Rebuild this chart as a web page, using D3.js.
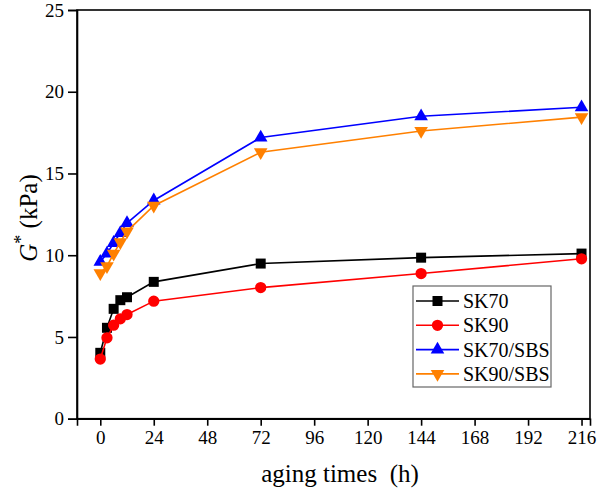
<!DOCTYPE html>
<html>
<head>
<meta charset="utf-8">
<script src="https://cdn.jsdelivr.net/npm/d3@7"></script>
<style>
  body { margin: 0; background: #fff; }
  text, tspan { font-family: 'Liberation Serif'; }
</style>
</head>
<body>
<script>
// aging times (h)
var times = [0, 3, 6, 9, 12, 24, 72, 144, 216];

var sk70 = [4.03, 5.56, 6.72, 7.25, 7.43, 8.37, 9.49, 9.85, 10.1];
var sk90 = [3.65, 4.95, 5.72, 6.11, 6.37, 7.19, 8.02, 8.88, 9.78];
var sk70sbs = [9.6, 10.1, 10.75, 11.36, 11.97, 13.35, 17.2, 18.5, 19.05];
var sk90sbs = [8.9, 9.33, 10.1, 10.8, 11.46, 13.03, 16.3, 17.6, 18.45];

var xTicks = [0, 24, 48, 72, 96, 120, 144, 168, 192, 216];
var yTicks = [0, 5, 10, 15, 20, 25];

var series = [
    {name: 'SK70', values: sk70, color: '#000000', symbol: d3.symbolSquare, size: 100, rot: 0},
    {name: 'SK90', values: sk90, color: '#ff0000', symbol: d3.symbolCircle, size: 100, rot: 0},
    {name: 'SK70/SBS', values: sk70sbs, color: '#0000ff', symbol: d3.symbolTriangle, size: 80, rot: 0},
    {name: 'SK90/SBS', values: sk90sbs, color: '#ff8000', symbol: d3.symbolTriangle, size: 80, rot: 180}
];

var W = 600, H = 495;
var m = {top: 10, right: 10, bottom: 76, left: 77};

var svg = d3.select('body').append('svg')
    .attr('width', W)
    .attr('height', H);

var x = d3.scaleLinear().domain([-10.45, 219.8]).range([m.left, W - m.right]);
var y = d3.scaleLinear().domain([0, 25]).range([H - m.bottom - 0.3, m.top]);

function serif(sel, px) {
    sel.attr('font-family', 'Liberation Serif')
        .style('font-family', "'Liberation Serif'")
        .style('font-size', px + 'px');
    return sel;
}

// frame
svg.append('rect')
    .attr('x', m.left).attr('y', m.top)
    .attr('width', W - m.right - m.left)
    .attr('height', H - m.bottom - 0.3 - m.top)
    .attr('fill', 'none')
    .attr('stroke', '#000')
    .attr('stroke-width', 1.6);

var xAxis = svg.append('g')
    .attr('transform', 'translate(0,' + (H - m.bottom - 0.3) + ')')
    .call(d3.axisBottom(x).tickValues(xTicks).tickSize(7).tickPadding(5));

var yAxis = svg.append('g')
    .attr('transform', 'translate(' + m.left + ',0)')
    .call(d3.axisLeft(y).tickValues(yTicks).tickSize(9).tickPadding(4));

[xAxis, yAxis].forEach(function(ax) {
    ax.attr('font-family', 'Liberation Serif').attr('font-size', 19);
    ax.select('.domain').attr('stroke-width', 1.6);
    ax.selectAll('.tick line').attr('stroke-width', 1.6);
    serif(ax.selectAll('.tick text'), 19).attr('fill', '#000');
});

// lines and markers
var line = d3.line()
    .x(function(d) { return x(d[0]); })
    .y(function(d) { return y(d[1]); });

series.forEach(function(s) {
    var pts = times.map(function(t, i) { return [t, s.values[i]]; });
    svg.append('path')
        .datum(pts)
        .attr('d', line)
        .attr('fill', 'none')
        .attr('stroke', s.color)
        .attr('stroke-width', 1.6);

    svg.append('g').selectAll('path')
        .data(pts)
        .enter()
        .append('path')
        .attr('d', d3.symbol().type(s.symbol).size(s.size))
        .attr('transform', function(d) {
            return 'translate(' + x(d[0]) + ',' + y(d[1]) + ') rotate(' + s.rot + ')';
        })
        .attr('fill', s.color);
});

// legend
var lg = svg.append('g').attr('transform', 'translate(413,286)');
lg.append('rect')
    .attr('width', 138).attr('height', 101)
    .attr('fill', '#fff')
    .attr('stroke', '#666')
    .attr('stroke-width', 1.2);

series.forEach(function(s, i) {
    var row = lg.append('g').attr('transform', 'translate(0,' + (15 + i * 24.3) + ')');
    row.append('line')
        .attr('x1', 3).attr('x2', 46)
        .attr('stroke', s.color).attr('stroke-width', 1.6);
    row.append('path')
        .attr('d', d3.symbol().type(s.symbol).size(s.size))
        .attr('transform', 'translate(24.5,0) rotate(' + s.rot + ')')
        .attr('fill', s.color);
    serif(row.append('text'), 20)
        .attr('x', 50).attr('y', 7)
        .text(s.name);
});

// axis titles
serif(svg.append('text'), 25)
    .attr('x', 340).attr('y', 482)
    .attr('text-anchor', 'middle')
    .style('white-space', 'pre')
    .text('aging times  (h)');

var yt = serif(svg.append('text'), 25)
    .attr('transform', 'translate(37,218) rotate(-90)')
    .attr('text-anchor', 'middle');
yt.append('tspan').style('font-style', 'italic').text('G');
yt.append('tspan').attr('dy', -10).style('font-size', '18px').text('*');
yt.append('tspan').attr('dy', 10).text(' (kPa)');
</script>
</body>
</html>
